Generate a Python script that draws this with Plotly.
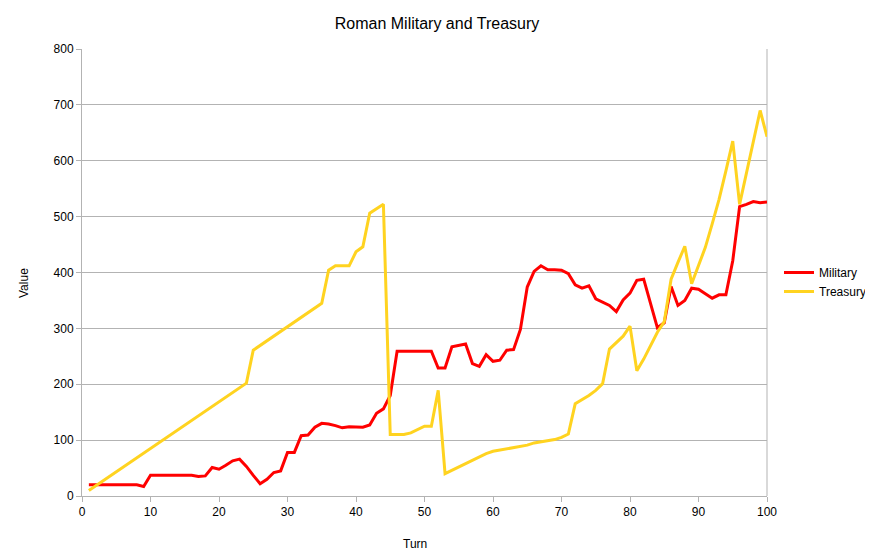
import plotly.graph_objects as go

title = "Roman Military and Treasury"
x_title = "Turn"
y_title = "Value"

military_turns = list(range(1, 101))
military = [20, 20, 20, 20, 20, 20, 20, 20, 17, 37,
            37, 37, 37, 37, 37, 37, 35, 36, 51, 48,
            55, 63, 66, 53, 37, 22, 30, 42, 45, 78,
            78, 108, 109, 123, 130, 129, 126, 122, 124, 123,
            123, 127, 148, 156, 180, 259, 259, 259, 259, 259,
            259, 229, 229, 267, 270, 272, 237, 232, 253, 241,
            243, 261, 262, 298, 374, 402, 412, 405, 405, 404,
            398, 378, 372, 376, 353, 347, 341, 330, 351, 363,
            386, 388, 343, 301, 310, 375, 341, 350, 372, 370,
            362, 354, 360, 360, 421, 518, 522, 527, 525, 526]

treasury_turns = [1, 24, 25, 35, 36, 37, 38, 39, 40, 41,
                  42, 43, 44, 45, 46, 47, 48, 49, 50, 51,
                  52, 53, 56, 57, 58, 59, 60, 61, 62, 63,
                  64, 65, 66, 67, 68, 69, 70, 71, 72, 73,
                  74, 75, 76, 77, 78, 79, 80, 81, 82, 83,
                  84, 85, 86, 87, 88, 89, 90, 91, 92, 93,
                  94, 95, 96, 97, 98, 99, 100]
treasury = [10, 202, 261, 345, 404, 412, 412, 412, 437, 446,
            506, 514, 522, 110, 110, 110, 113, 119, 125, 125,
            189, 40, 58, 64, 70, 76, 80, 82, 84, 86,
            88, 91, 95, 97, 99, 101, 105, 111, 165, 172,
            180, 189, 201, 263, 274, 286, 304, 224, 245, 268,
            293, 312, 388, 418, 447, 380, 412, 445, 487, 531,
            582, 635, 522, 576, 633, 690, 643]

x_ticks = list(range(0, 101, 10))
y_ticks = list(range(0, 801, 100))

FONT = "Liberation Sans, Arial, sans-serif"
GRID = "#b3b3b3"
W, H = 873, 560

fig = go.Figure()
fig.add_trace(go.Scatter(x=military_turns, y=military, mode="lines", name="Military",
                         line=dict(color="#ff0000", width=3)))
fig.add_trace(go.Scatter(x=treasury_turns, y=treasury, mode="lines", name="Treasury",
                         line=dict(color="#ffd320", width=3)))

fig.update_layout(
    width=W, height=H,
    margin=dict(l=74, r=114, t=41, b=72, autoexpand=False),
    paper_bgcolor="white", plot_bgcolor="white",
    font=dict(family=FONT, size=12, color="black"),
    title=dict(text=title, x=429 / W, xref="container", xanchor="center",
               y=1 - 15 / H, yref="container", yanchor="middle",
               font=dict(family=FONT, size=16, color="black")),
    showlegend=True,
    legend=dict(x=771 / W, xref="container", xanchor="left",
                y=1 - 274 / H, yref="container", yanchor="middle",
                font=dict(family=FONT, size=12, color="black"),
                itemwidth=30),
    xaxis=dict(range=[0, 100], tickvals=x_ticks, showgrid=False, zeroline=False,
               showline=True, linecolor=GRID, linewidth=1,
               ticks="outside", ticklen=5, tickcolor=GRID),
    yaxis=dict(range=[0, 800], tickvals=y_ticks, showgrid=True, gridcolor=GRID,
               gridwidth=1, zeroline=False, showline=True, linecolor=GRID, linewidth=1,
               ticks="outside", ticklen=5, tickcolor=GRID),
    annotations=[
        dict(text=x_title, xref="paper", yref="paper", x=(415 - 82) / 685,
             y=(496 - 544) / 447, xanchor="center", yanchor="middle",
             showarrow=False, font=dict(family=FONT, size=12, color="black")),
        dict(text=y_title, xref="paper", yref="paper", x=(24 - 82) / 685,
             y=(496 - 283) / 447, xanchor="center", yanchor="middle", textangle=-90,
             showarrow=False, font=dict(family=FONT, size=12, color="black")),
    ],
)
fig.add_shape(type="line", xref="paper", yref="paper", x0=1, x1=1, y0=0, y1=1,
              line=dict(color=GRID, width=1), layer="below")

fig.write_html("out.html")
